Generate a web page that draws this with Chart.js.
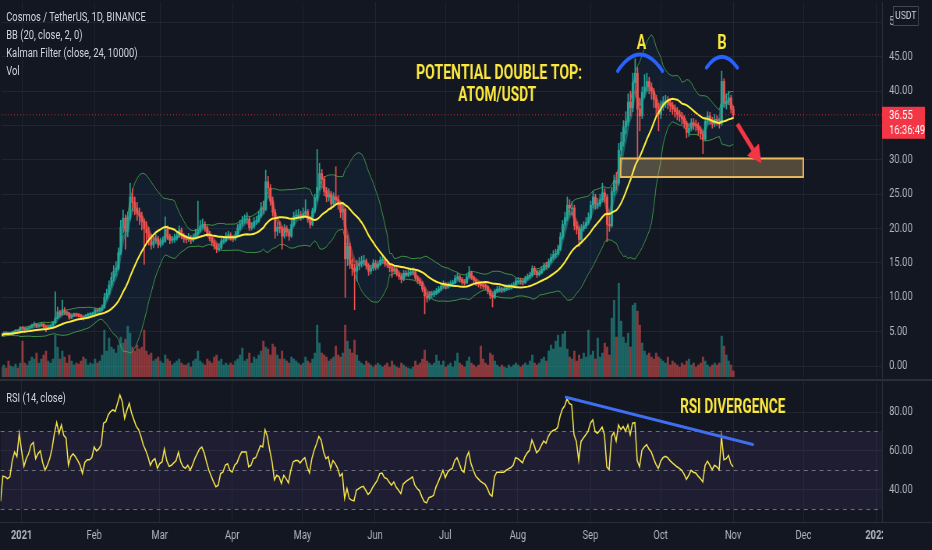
<!DOCTYPE html>
<html>
<head>
<meta charset="utf-8">
<title>ATOM/USDT 1D</title>
<script src="https://cdn.jsdelivr.net/npm/chart.js@4.4.0/dist/chart.umd.min.js"></script>
<style>
  html, body { margin: 0; padding: 0; width: 932px; height: 550px; overflow: hidden; background: #131722; }
  /* the reference screenshot is squeezed horizontally, so draw wide and squeeze */
  #stage { position: absolute; left: 0; top: 0; width: 1195px; height: 550px; transform: scaleX(0.7799); transform-origin: 0 0; }
  #pricePane { position: absolute; left: 0; top: 0; width: 1195px; height: 379px; }
  #rsiPane { position: absolute; left: 0; top: 379px; width: 1195px; height: 171px; }
  .legend { position: absolute; left: 8px; font: 12px Roboto, "Noto Sans", sans-serif; color: #d1d4dc; line-height: 18px; pointer-events: none; }
</style>
</head>
<body>
<div id="stage">
  <div id="pricePane"><canvas id="priceChart"></canvas></div>
  <div id="rsiPane"><canvas id="rsiChart"></canvas></div>
  <div class="legend" style="top:8px">
    <div>Cosmos / TetherUS, 1D, BINANCE</div>
    <div>BB (20, close, 2, 0)</div>
    <div>Kalman Filter (close, 24, 10000)</div>
    <div>Vol</div>
  </div>
  <div class="legend" style="top:389px">RSI (14, close)</div>
</div>
<script>
// day numbers are counted from 2021-01-01; first candle is 2020-12-23
const firstDay = -9;
const firstOpen = 4.6;

const closes = [
  4.5, 4.8, 4.75, 4.7, 4.75, 5.0, 5.15, 5.1, 5.6,
  5.5, 5.3, 5.5, 5.65, 5.95, 6.1, 5.8, 5.95, 6.1, 5.8,
  5.6, 5.7, 5.9, 6.3, 7.0, 7.9, 7.5, 8.2, 7.8, 7.7,
  7.0, 7.35, 7.55, 7.45, 7.35, 7.15, 6.9, 7.35, 7.5, 7.55,
  7.65, 8.2, 8.05, 8.2, 8.5, 10.0, 10.6, 11.8, 12.9, 13.8,
  14.2, 16.5, 20.2, 21.5, 19.6, 21.6, 24.6, 23.8, 23.0, 22.2,
  21.8, 21.0, 20.0, 19.4, 18.6, 17.6, 18.2, 18.5, 17.6, 18.0,
  18.2, 20.0, 18.8, 18.3, 18.4, 18.6, 18.9, 19.8, 18.9, 18.5,
  18.4, 18.7, 18.3, 18.7, 19.3, 19.8, 20.4, 20.6, 20.1, 19.2,
  18.6, 18.0, 17.5, 17.0, 17.2, 18.2, 18.3, 18.9, 19.1, 18.6,
  18.5, 19.1, 20.1, 20.7, 21.2, 21.3, 21.4, 20.1, 20.3, 21.0,
  21.1, 21.9, 23.0, 22.8, 26.8, 25.9, 24.0, 22.4, 19.6, 20.2,
  20.0, 18.9, 20.0, 19.5, 18.9, 20.6, 21.8, 22.0, 22.0, 21.7,
  22.2, 22.5, 21.3, 20.6, 22.6, 24.4, 26.0, 28.0, 27.2, 25.4,
  24.6, 25.0, 23.6, 24.6, 24.2, 23.6, 22.4, 22.8, 15.6, 17.4,
  14.8, 14.2, 13.8, 14.6, 14.9, 15.2, 15.3, 14.6, 13.8, 14.2,
  15.0, 14.4, 14.8, 15.4, 15.5, 14.9, 14.7, 14.3, 13.8, 14.1,
  13.4, 13.0, 12.6, 13.5, 13.3, 13.5, 13.6, 13.7, 12.8, 12.4,
  12.1, 11.2, 10.2, 9.9, 10.4, 10.5, 10.6, 10.9, 11.2, 11.6,
  12.0, 11.5, 11.8, 12.0, 12.1, 12.8, 13.0, 12.6, 12.2, 12.1,
  13.0, 13.6, 12.9, 12.5, 12.1, 11.9, 11.7, 11.6, 11.5, 10.9,
  10.3, 10.0, 10.9, 11.2, 11.2, 11.1, 11.2, 11.4, 11.5, 11.6,
  11.8, 12.4, 12.4, 12.3, 12.2, 12.7, 13.0, 13.2, 14.2, 13.8,
  13.3, 13.6, 14.1, 14.6, 14.5, 15.2, 15.8, 16.2, 16.4, 17.0,
  18.8, 20.6, 21.6, 23.4, 23.0, 23.0, 20.4, 19.9, 18.4, 20.0,
  20.4, 20.9, 21.6, 23.4, 24.6, 23.6, 23.6, 24.2, 25.2, 24.6,
  20.6, 20.4, 25.4, 27.0, 26.6, 31.4, 32.6, 34.8, 35.6, 38.4,
  37.6, 41.2, 42.6, 37.4, 36.4, 39.8, 40.6, 41.4, 40.6, 40.0,
  38.8, 37.6, 36.6, 37.8, 38.4, 38.6, 38.3, 37.9, 37.4, 37.0,
  36.6, 36.3, 36.0, 35.3, 34.0, 34.6, 35.4, 35.1, 35.0, 34.4,
  33.8, 33.0, 35.6, 36.4, 35.8, 35.2, 35.9, 35.7, 35.3, 41.4,
  38.2, 38.5, 39.0, 37.4, 36.55
];

const highs = [
  4.8, 4.95, 4.95, 4.9, 4.85, 5.1, 5.3, 5.25, 5.75,
  5.8, 5.6, 5.6, 5.8, 6.1, 6.4, 6.2, 6.1, 6.3, 6.2,
  5.9, 5.9, 6.0, 6.5, 10.8, 8.6, 8.1, 9.6, 8.5, 8.0,
  7.8, 7.5, 7.7, 7.7, 7.6, 7.5, 7.25, 7.5, 7.7, 7.8,
  7.85, 8.4, 8.4, 8.5, 8.9, 10.6, 11.2, 12.4, 13.6, 14.6,
  15.2, 17.2, 21.2, 22.7, 22.0, 22.4, 26.6, 25.8, 24.6, 23.8,
  23.0, 22.4, 21.4, 21.0, 20.2, 19.2, 18.8, 19.2, 18.9, 18.6,
  18.8, 21.7, 20.4, 19.2, 18.9, 19.2, 19.5, 20.4, 20.1, 19.3,
  19.0, 19.3, 19.0, 19.2, 19.9, 24.0, 21.2, 21.4, 21.0, 20.4,
  19.6, 18.9, 18.3, 17.8, 17.7, 18.6, 18.8, 19.4, 19.6, 19.4,
  19.0, 19.6, 20.6, 21.2, 21.8, 22.0, 22.3, 21.7, 20.9, 21.6,
  21.8, 22.5, 23.8, 24.0, 28.5, 27.6, 26.4, 24.6, 22.8, 20.9,
  21.0, 20.3, 20.6, 20.4, 19.9, 21.2, 22.4, 22.7, 22.8, 22.5,
  23.0, 24.2, 22.8, 21.7, 23.0, 25.0, 31.5, 29.5, 28.6, 27.6,
  26.0, 25.8, 25.4, 25.2, 29.0, 24.8, 24.0, 23.6, 23.0, 19.0,
  17.9, 15.6, 14.8, 15.4, 15.8, 16.0, 16.1, 15.6, 14.9, 14.7,
  15.5, 15.4, 15.3, 15.9, 16.0, 15.8, 15.3, 15.0, 14.5, 14.6,
  14.3, 13.7, 13.3, 13.9, 13.9, 14.0, 14.1, 14.3, 13.9, 13.1,
  12.7, 12.3, 11.5, 10.7, 10.8, 10.9, 11.0, 11.3, 11.6, 12.0,
  12.4, 12.2, 12.2, 12.4, 12.5, 13.2, 13.5, 13.3, 12.9, 12.6,
  13.4, 14.5, 13.8, 13.1, 12.7, 12.3, 12.2, 12.0, 11.9, 11.7,
  11.1, 10.6, 11.2, 11.6, 11.6, 11.5, 11.6, 11.8, 11.9, 12.0,
  12.2, 12.8, 12.9, 12.8, 12.7, 13.1, 13.4, 13.7, 14.6, 14.5,
  14.0, 14.0, 14.5, 15.0, 15.1, 15.6, 16.3, 16.8, 17.0, 17.6,
  19.4, 21.2, 22.4, 24.6, 24.2, 23.9, 23.4, 21.0, 20.3, 20.6,
  21.0, 21.6, 22.3, 24.0, 25.4, 25.0, 24.4, 25.0, 26.6, 25.8,
  25.0, 21.8, 26.0, 27.8, 28.2, 32.4, 34.0, 35.7, 37.0, 39.6,
  40.0, 42.6, 44.7, 43.4, 39.0, 40.6, 42.4, 42.6, 42.0, 41.2,
  40.4, 39.4, 38.2, 38.6, 39.2, 39.4, 39.2, 38.9, 38.4, 38.0,
  37.6, 37.2, 36.9, 36.4, 35.6, 35.2, 36.0, 36.0, 35.8, 35.4,
  34.8, 34.2, 36.2, 37.0, 36.9, 36.2, 36.6, 36.4, 36.0, 42.9,
  41.8, 39.6, 40.0, 39.4, 37.8
];

const lows = [
  4.3, 4.4, 4.6, 4.55, 4.6, 4.7, 4.95, 4.95, 5.05,
  5.35, 5.1, 5.2, 5.4, 5.6, 5.85, 5.6, 5.7, 5.85, 5.6,
  5.0, 5.4, 5.55, 5.8, 6.2, 6.9, 7.2, 7.4, 7.5, 7.4,
  6.8, 6.9, 7.2, 7.3, 7.15, 7.0, 6.7, 6.85, 7.2, 7.35,
  7.4, 7.6, 7.9, 7.95, 8.1, 8.4, 9.7, 10.4, 11.5, 12.4,
  13.2, 14.0, 16.2, 19.4, 17.0, 18.8, 21.2, 22.6, 22.0, 21.2,
  20.6, 19.8, 14.8, 17.8, 17.6, 17.0, 17.2, 17.8, 17.2, 17.3,
  17.6, 18.0, 18.4, 17.8, 17.9, 18.0, 18.3, 18.7, 18.5, 18.0,
  17.9, 18.1, 17.8, 18.1, 18.5, 19.0, 19.5, 20.0, 19.6, 18.8,
  18.2, 17.6, 17.0, 16.5, 16.7, 17.0, 17.9, 18.1, 18.6, 18.3,
  18.1, 18.3, 18.9, 19.8, 20.4, 20.8, 20.9, 19.7, 19.8, 20.0,
  20.6, 20.9, 21.6, 22.2, 22.6, 25.0, 23.4, 21.8, 18.6, 19.0,
  19.4, 17.0, 18.6, 18.9, 18.3, 18.7, 20.3, 21.4, 21.5, 21.2,
  21.4, 22.0, 20.9, 20.1, 20.4, 22.3, 24.0, 25.6, 26.4, 24.8,
  23.9, 24.0, 22.8, 23.1, 23.6, 22.8, 21.6, 21.3, 10.0, 14.6,
  14.2, 13.2, 8.2, 12.4, 14.0, 14.4, 14.6, 14.1, 13.2, 13.4,
  13.9, 14.0, 14.1, 14.6, 15.0, 14.5, 14.3, 13.7, 12.9, 13.4,
  13.1, 12.6, 12.1, 12.4, 13.0, 13.0, 13.2, 13.3, 12.5, 12.0,
  11.7, 10.8, 7.6, 9.3, 9.6, 9.9, 10.1, 10.4, 10.7, 11.0,
  11.4, 11.2, 11.3, 11.6, 11.7, 12.0, 12.5, 12.2, 11.9, 11.8,
  12.0, 12.9, 12.6, 12.1, 11.7, 11.5, 11.3, 11.2, 11.1, 10.5,
  9.8, 8.6, 9.8, 10.7, 10.8, 10.7, 10.8, 11.0, 11.1, 11.2,
  11.4, 11.7, 12.0, 11.9, 11.8, 12.0, 12.5, 12.8, 13.0, 13.3,
  12.9, 13.1, 13.4, 13.9, 14.1, 14.3, 15.0, 15.5, 15.8, 16.2,
  16.8, 18.5, 20.2, 21.2, 22.0, 22.0, 19.8, 19.2, 17.4, 18.1,
  19.6, 20.0, 20.6, 21.3, 23.0, 22.8, 22.9, 23.2, 23.9, 23.8,
  18.1, 19.6, 20.2, 24.9, 25.6, 26.3, 30.6, 32.0, 33.8, 35.0,
  36.4, 37.0, 40.0, 30.0, 34.2, 36.0, 39.0, 40.0, 39.6, 38.8,
  37.6, 36.4, 34.2, 36.0, 37.2, 37.6, 37.4, 37.0, 36.6, 36.2,
  35.8, 35.6, 35.2, 34.6, 33.2, 33.4, 34.2, 34.4, 34.2, 33.6,
  33.0, 30.9, 32.8, 35.2, 35.2, 34.6, 34.8, 35.0, 34.6, 35.0,
  37.6, 37.4, 38.0, 36.8, 36.0
];

const volumes = [
  10, 12, 9, 16, 11, 10, 13, 9, 14,
  36, 14, 12, 16, 20, 18, 24, 14, 18, 22,
  26, 16, 14, 18, 42, 30, 18, 26, 20, 14,
  22, 16, 12, 14, 13, 16, 20, 18, 12, 14,
  13, 18, 14, 16, 22, 47, 26, 39, 30, 28,
  24, 32, 40, 34, 38, 51, 44, 30, 26, 32,
  28, 30, 47, 26, 22, 24, 16, 18, 20, 16,
  14, 22, 18, 16, 12, 14, 16, 18, 14, 12,
  12, 14, 10, 16, 18, 26, 16, 14, 12, 18,
  16, 14, 20, 22, 16, 18, 12, 14, 12, 14,
  12, 16, 18, 22, 29, 16, 18, 24, 14, 20,
  18, 22, 26, 36, 30, 28, 22, 33, 30, 22,
  18, 26, 18, 16, 14, 20, 18, 16, 14, 12,
  14, 20, 16, 14, 18, 24, 52, 34, 24, 22,
  20, 16, 18, 20, 31, 22, 20, 24, 52, 36,
  28, 24, 37, 22, 16, 14, 12, 16, 14, 12,
  10, 12, 14, 12, 10, 12, 14, 10, 16, 12,
  10, 9, 14, 12, 10, 9, 8, 10, 16, 12,
  14, 18, 27, 16, 14, 12, 14, 22, 16, 12,
  16, 10, 12, 14, 10, 16, 24, 14, 12, 10,
  16, 20, 14, 12, 10, 12, 31, 18, 14, 12,
  24, 22, 16, 12, 10, 12, 10, 9, 12, 10,
  12, 14, 12, 10, 12, 14, 12, 16, 22, 14,
  12, 14, 18, 20, 16, 26, 32, 28, 36, 42,
  30, 43, 46, 28, 20, 18, 26, 16, 22, 18,
  24, 20, 47, 22, 26, 18, 39, 20, 24, 34,
  30, 22, 59, 77, 40, 94, 56, 40, 34, 44,
  30, 72, 74, 66, 52, 34, 26, 22, 24, 20,
  18, 24, 20, 18, 16, 14, 20, 12, 16, 14,
  12, 10, 14, 12, 16, 18, 12, 14, 10, 12,
  14, 20, 16, 12, 10, 12, 14, 12, 14, 41,
  31, 22, 16, 12, 6
];

const rsi = [
  34, 47, 46.6, 45.7, 46.6, 55, 59.4, 57, 69,
  60, 52, 56, 58.5, 63, 64.4, 56, 58.5, 60, 54,
  50, 52.6, 56, 61, 69, 74.6, 69, 73.4, 68, 66.6,
  52.6, 57, 58.5, 57, 55, 52.6, 48.3, 54, 55.4, 55.4,
  56.5, 62, 60, 61, 63, 74.3, 75, 78.5, 80.3, 81.1,
  80.3, 84.5, 88.8, 85.4, 76.8, 81, 84.5, 79.4, 76, 72.6,
  70.9, 67.4, 63, 60.3, 57, 52.6, 55, 56, 51, 53.4,
  54.3, 61, 55, 52, 52.6, 53.8, 55, 59.4, 54.3, 51.8,
  51, 52.6, 50, 52.6, 56, 58.5, 61, 62, 59, 54.3,
  50, 47, 44, 41.5, 42.3, 48.3, 49, 52.6, 53.4, 50,
  49, 52.6, 53.8, 57, 59.4, 59.4, 59.4, 51.8, 52.6, 56,
  56.5, 59.4, 62.7, 62, 70.9, 67.4, 60.3, 54.3, 45, 47.4,
  46.6, 43.2, 47.4, 45.7, 43.5, 50, 54.3, 55, 55, 53.8,
  55.4, 56.5, 51.8, 48.6, 56, 60.3, 63.7, 67.4, 65.6, 59.4,
  56, 57, 51, 55, 53.4, 51, 47, 48.3, 35.4, 40.6,
  35.4, 34.6, 34.2, 39.7, 40.5, 41.3, 41.7, 39.7, 37.6, 38.8,
  41.3, 43, 44.9, 48.3, 48.6, 46.2, 45.7, 44, 42.3, 44,
  41.3, 39.7, 38, 42.8, 44, 44.9, 45.7, 46.6, 42.3, 40.6,
  39.4, 36.3, 33.8, 33.2, 35.9, 36.3, 37.1, 41.3, 44, 47,
  50, 46.2, 49, 50.3, 51, 55, 56.5, 53.4, 50, 49,
  56.5, 59.4, 53.4, 50, 47, 45.7, 44.4, 43.5, 42.8, 40.6,
  37.6, 36.6, 46.6, 49, 49, 49, 49, 50, 50.7, 51.4,
  52.6, 56.5, 56, 55, 53.8, 57, 59, 60.3, 65.6, 62.7,
  59, 60.3, 62.7, 65.1, 64, 67.4, 69.5, 70.5, 70.9, 72.2,
  77.7, 81.5, 83.2, 86.8, 84.5, 83.7, 68.3, 64.9, 55, 64.9,
  66.6, 68.3, 70, 74.3, 76, 70, 69.1, 70.5, 72.2, 68.3,
  51.8, 50.3, 67.4, 69.5, 65, 73.4, 71, 72.6, 70, 73.4,
  68.3, 74.3, 74.6, 55, 51.8, 60.3, 62, 63.2, 61, 59.4,
  56, 53, 50.9, 54.7, 56.5, 57.2, 56.5, 55, 53.8, 52.8,
  51.8, 51, 50, 48, 45.3, 47.4, 50, 49, 48.6, 47,
  45.7, 44, 52.6, 54.7, 52.6, 50.3, 52.6, 51.8, 50.3, 67.4,
  55.4, 56, 57.7, 53.4, 51.8
];

const monthTickDays = [0, 31, 59, 90, 120, 151, 181, 212, 243, 273, 304, 334, 365];
const monthTickLabels = ['2021', 'Feb', 'Mar', 'Apr', 'May', 'Jun', 'Jul', 'Aug', 'Sep', 'Oct', 'Nov', 'Dec', '2022'];
const priceTicks = [0, 5, 10, 15, 20, 25, 30, 35, 40, 45, 50];
const rsiTicks = [40, 60, 80];
const rsiLevels = [70, 50, 30];
const lastPrice = 36.55;
const countdown = '16:36:49';

// drawings on the chart, in (day, value) coordinates
const supportZone = [255.8, 333.9, 27.5, 30.2];     // from day, to day, low, high
const topArcs = [[254.5, 273.7, 42.9, 45.3], [292.5, 305.7, 43.4, 45.0]]; // from, to, end price, apex price
const topLabels = [['A', 264.7, 46.9], ['B', 299.1, 46.8]];
const arrowPath = [[305.7, 35.2], [316.0, 29.5]];
const rsiTrend = [[232.5, 87.6], [312.4, 63.3]];

const xMin = -8.97, xMax = 367.6;
const priceMin = -1.58, priceMax = 52.95;
const rsiMin = 23.33, rsiMax = 96.67;

const up = '#26a69a', down = '#ef5350';
const gridColor = 'rgba(42,46,57,0.6)';
const paneBorder = '#2a2e39';
const axisText = '#b2b5be';
const axisWidth = 64;

Chart.defaults.font.family = 'Roboto, "Noto Sans", sans-serif';
Chart.defaults.font.size = 12;
Chart.defaults.color = axisText;

const days = closes.map((_, i) => firstDay + i);
const opens = closes.map((c, i) => i === 0 ? firstOpen : closes[i - 1]);
const candleColors = closes.map((c, i) => c >= opens[i] ? up : down);
const volColors = closes.map((c, i) => c >= opens[i] ? 'rgba(38,166,154,0.55)' : 'rgba(239,83,80,0.55)');
const pts = arr => arr.map((v, i) => ({ x: days[i], y: v }));

function bollinger(src, len, mult) {
  const basis = [], upper = [], lower = [];
  src.forEach((_, i) => {
    const win = src.slice(Math.max(0, i - len + 1), i + 1);
    const m = win.reduce((s, v) => s + v, 0) / win.length;
    const sd = Math.sqrt(win.reduce((s, v) => s + (v - m) * (v - m), 0) / win.length);
    basis.push(m);
    upper.push(m + mult * sd);
    lower.push(m - mult * sd);
  });
  return { basis, upper, lower };
}

function kalman(src, q, r) {
  let est = src[0], p = 1;
  return src.map(z => {
    p += q;
    const k = p / (p + r);
    est += k * (z - est);
    p *= (1 - k);
    return est;
  });
}

const bb = bollinger(closes, 20, 2);
const kf = kalman(closes, 0.27, 1);

const monthTicks = s => { s.ticks = monthTickDays.map(v => ({ value: v })); };
// keep the plot area flush with the canvas edges, like the reference panes
const noPad = s => { s.paddingTop = 0; s.paddingBottom = 0; s.paddingLeft = 0; s.paddingRight = 0; };

const priceOverlay = {
  id: 'priceOverlay',
  afterDatasetsDraw(chart) {
    const { ctx, chartArea: a, scales: { x, y } } = chart;
    ctx.save();
    ctx.beginPath();
    ctx.rect(a.left, a.top, a.right - a.left, a.bottom - a.top);
    ctx.clip();

    // last price line
    const py = y.getPixelForValue(lastPrice);
    ctx.strokeStyle = 'rgba(242,54,69,0.85)';
    ctx.lineWidth = 1;
    ctx.setLineDash([1, 3]);
    ctx.beginPath(); ctx.moveTo(a.left, py); ctx.lineTo(a.right, py); ctx.stroke();
    ctx.setLineDash([]);

    // support zone
    const zx0 = x.getPixelForValue(supportZone[0]), zx1 = x.getPixelForValue(supportZone[1]);
    const zyTop = y.getPixelForValue(supportZone[3]), zyBot = y.getPixelForValue(supportZone[2]);
    ctx.fillStyle = 'rgba(255,210,130,0.27)';
    ctx.fillRect(zx0, zyTop, zx1 - zx0, zyBot - zyTop);
    ctx.strokeStyle = '#e9b75a';
    ctx.lineWidth = 2;
    ctx.strokeRect(zx0, zyTop, zx1 - zx0, zyBot - zyTop);

    // arcs over the two tops
    ctx.strokeStyle = '#2962ff';
    ctx.lineWidth = 4;
    ctx.lineCap = 'round';
    topArcs.forEach(([d0, d1, pEnd, pApex]) => {
      const x0 = x.getPixelForValue(d0), x1 = x.getPixelForValue(d1);
      const ye = y.getPixelForValue(pEnd), ya = y.getPixelForValue(pApex);
      ctx.beginPath();
      ctx.moveTo(x0, ye);
      ctx.quadraticCurveTo((x0 + x1) / 2, 2 * ya - ye, x1, ye);
      ctx.stroke();
    });

    // labels
    ctx.fillStyle = '#fbe73f';
    ctx.textAlign = 'center';
    ctx.textBaseline = 'middle';
    ctx.font = 'bold 20px Roboto, "Noto Sans", sans-serif';
    topLabels.forEach(([t, d, p]) => ctx.fillText(t, x.getPixelForValue(d), y.getPixelForValue(p), 12));
    ctx.fillText('POTENTIAL DOUBLE TOP:', x.getPixelForValue(203.8), y.getPixelForValue(42.5), 213);
    ctx.fillText('ATOM/USDT', x.getPixelForValue(203.0), y.getPixelForValue(39.3), 100);

    // arrow
    const [[ad0, ap0], [ad1, ap1]] = arrowPath;
    const ax0 = x.getPixelForValue(ad0), ay0 = y.getPixelForValue(ap0);
    const ax1 = x.getPixelForValue(ad1), ay1 = y.getPixelForValue(ap1);
    const ang = Math.atan2(ay1 - ay0, ax1 - ax0), head = 20;
    ctx.strokeStyle = '#f23645';
    ctx.fillStyle = '#f23645';
    ctx.lineWidth = 5;
    ctx.lineCap = 'butt';
    ctx.beginPath();
    ctx.moveTo(ax0, ay0);
    ctx.lineTo(ax1 - head * 0.7 * Math.cos(ang), ay1 - head * 0.7 * Math.sin(ang));
    ctx.stroke();
    ctx.beginPath();
    ctx.moveTo(ax1, ay1);
    ctx.lineTo(ax1 - head * Math.cos(ang - 0.5), ay1 - head * Math.sin(ang - 0.5));
    ctx.lineTo(ax1 - head * Math.cos(ang + 0.5), ay1 - head * Math.sin(ang + 0.5));
    ctx.closePath();
    ctx.fill();
    ctx.restore();
  },
  afterDraw(chart) {
    const { ctx, chartArea: a, scales: { y } } = chart;
    ctx.save();
    // last price tag on the axis
    const py = y.getPixelForValue(lastPrice);
    ctx.fillStyle = '#f23645';
    ctx.fillRect(a.right, py - 8, 55, 32);
    ctx.fillStyle = '#ffffff';
    ctx.textAlign = 'left';
    ctx.textBaseline = 'middle';
    ctx.font = '12px Roboto, "Noto Sans", sans-serif';
    ctx.fillText(lastPrice.toFixed(2), a.right + 9, py + 1);
    ctx.fillText(countdown, a.right + 9, py + 16);
    // currency box
    ctx.fillStyle = '#131722';
    ctx.fillRect(a.right + 14, 6, 32, 19);
    ctx.strokeStyle = '#434651';
    ctx.lineWidth = 1;
    ctx.strokeRect(a.right + 14.5, 6.5, 32, 19);
    ctx.fillStyle = '#d1d4dc';
    ctx.textAlign = 'center';
    ctx.font = '11px Roboto, "Noto Sans", sans-serif';
    ctx.fillText('USDT', a.right + 30.5, 16.5);
    ctx.restore();
  }
};

new Chart(document.getElementById('priceChart'), {
  type: 'bar',
  data: {
    datasets: [
      { type: 'line', label: 'BB upper', data: pts(bb.upper), borderColor: 'rgba(76,175,80,0.8)', borderWidth: 1, pointRadius: 0, order: 4 },
      { type: 'line', label: 'BB lower', data: pts(bb.lower), borderColor: 'rgba(76,175,80,0.8)', borderWidth: 1, pointRadius: 0, fill: '-1', backgroundColor: 'rgba(33,150,243,0.06)', order: 5 },
      { type: 'line', label: 'BB basis', data: pts(bb.basis), borderColor: '#ffeb3b', borderWidth: 2, pointRadius: 0, order: 0 },
      {
        type: 'line', label: 'Kalman', data: pts(kf), borderColor: 'rgba(38,166,154,0.5)', borderWidth: 4, pointRadius: 0, order: 1,
        segment: { borderColor: c => c.p1.parsed.y >= c.p0.parsed.y ? 'rgba(38,166,154,0.5)' : 'rgba(239,83,80,0.5)' }
      },
      { label: 'Wick', data: days.map((d, i) => ({ x: d, y: [lows[i], highs[i]] })), backgroundColor: candleColors, barThickness: 1, grouped: false, order: 3 },
      { label: 'Body', data: days.map((d, i) => ({ x: d, y: [opens[i], closes[i]] })), backgroundColor: candleColors, barThickness: 2.3, minBarLength: 1, grouped: false, order: 2 },
      { label: 'Volume', yAxisID: 'vol', data: pts(volumes), backgroundColor: volColors, barThickness: 2.3, grouped: false, order: 6 }
    ]
  },
  options: {
    responsive: true,
    maintainAspectRatio: false,
    animation: false,
    layout: { padding: 0 },
    plugins: { legend: { display: false }, tooltip: { enabled: false } },
    scales: {
      x: {
        type: 'linear', min: xMin, max: xMax, offset: false,
        ticks: { display: false },
        grid: { color: gridColor, drawTicks: false, offset: false },
        border: { display: false },
        afterBuildTicks: monthTicks,
        afterFit: s => { s.height = 0; noPad(s); }
      },
      y: {
        position: 'right', min: priceMin, max: priceMax,
        ticks: { color: axisText, padding: 9, callback: v => v.toFixed(2) },
        grid: { color: gridColor, drawTicks: false },
        border: { color: paneBorder },
        afterBuildTicks: s => { s.ticks = priceTicks.map(v => ({ value: v })); },
        afterFit: s => { s.width = axisWidth; noPad(s); }
      },
      vol: { display: false, min: 0, max: Math.max(...volumes) * 4 }
    }
  },
  plugins: [priceOverlay]
});

const rsiOverlay = {
  id: 'rsiOverlay',
  beforeDatasetsDraw(chart) {
    const { ctx, chartArea: a, scales: { y } } = chart;
    ctx.save();
    const yTop = y.getPixelForValue(rsiLevels[0]), yBot = y.getPixelForValue(rsiLevels[2]);
    ctx.fillStyle = 'rgba(126,87,194,0.1)';
    ctx.fillRect(a.left, yTop, a.right - a.left, yBot - yTop);
    ctx.strokeStyle = 'rgba(120,123,134,0.9)';
    ctx.lineWidth = 1;
    ctx.setLineDash([5, 5]);
    rsiLevels.forEach(v => {
      const py = Math.round(y.getPixelForValue(v)) + 0.5;
      ctx.beginPath(); ctx.moveTo(a.left, py); ctx.lineTo(a.right, py); ctx.stroke();
    });
    ctx.restore();
  },
  afterDatasetsDraw(chart) {
    const { ctx, scales: { x, y } } = chart;
    ctx.save();
    ctx.strokeStyle = '#3f6ff0';
    ctx.lineWidth = 3;
    ctx.lineCap = 'round';
    ctx.beginPath();
    ctx.moveTo(x.getPixelForValue(rsiTrend[0][0]), y.getPixelForValue(rsiTrend[0][1]));
    ctx.lineTo(x.getPixelForValue(rsiTrend[1][0]), y.getPixelForValue(rsiTrend[1][1]));
    ctx.stroke();
    ctx.fillStyle = '#fbe73f';
    ctx.textAlign = 'center';
    ctx.textBaseline = 'middle';
    ctx.font = 'bold 20px Roboto, "Noto Sans", sans-serif';
    ctx.fillText('RSI DIVERGENCE', x.getPixelForValue(303.8), y.getPixelForValue(82), 135);
    ctx.restore();
  },
  afterDraw(chart) {
    const { ctx, chartArea: a, width, height } = chart;
    ctx.save();
    // hide the part of the last month label that runs under the price axis
    ctx.fillStyle = '#131722';
    ctx.fillRect(a.right + 1, a.bottom + 1, width - a.right, height - a.bottom);
    ctx.strokeStyle = paneBorder;
    ctx.lineWidth = 2;
    ctx.beginPath(); ctx.moveTo(0, 1); ctx.lineTo(width, 1); ctx.stroke();
    ctx.lineWidth = 1;
    ctx.beginPath(); ctx.moveTo(0, a.bottom + 0.5); ctx.lineTo(width, a.bottom + 0.5); ctx.stroke();
    ctx.restore();
  }
};

new Chart(document.getElementById('rsiChart'), {
  type: 'line',
  data: {
    datasets: [
      { label: 'RSI', data: pts(rsi), borderColor: '#f6e54a', borderWidth: 1.5, pointRadius: 0 }
    ]
  },
  options: {
    responsive: true,
    maintainAspectRatio: false,
    animation: false,
    layout: { padding: 0 },
    plugins: { legend: { display: false }, tooltip: { enabled: false } },
    scales: {
      x: {
        type: 'linear', min: xMin, max: xMax, offset: false,
        ticks: {
          color: axisText, padding: 7, maxRotation: 0, autoSkip: false,
          font: c => ({ weight: monthTickLabels[c.index] && monthTickLabels[c.index].length === 4 ? 'bold' : 'normal' }),
          callback: (v, i) => monthTickLabels[i]
        },
        grid: { color: gridColor, drawTicks: false },
        border: { display: false },
        afterBuildTicks: monthTicks,
        afterFit: s => { s.height = 28; noPad(s); }
      },
      y: {
        position: 'right', min: rsiMin, max: rsiMax,
        ticks: { color: axisText, padding: 9, callback: v => v.toFixed(2) },
        grid: { color: gridColor, drawTicks: false },
        border: { color: paneBorder },
        afterBuildTicks: s => { s.ticks = rsiTicks.map(v => ({ value: v })); },
        afterFit: s => { s.width = axisWidth; noPad(s); }
      }
    }
  },
  plugins: [rsiOverlay]
});
</script>
</body>
</html>
